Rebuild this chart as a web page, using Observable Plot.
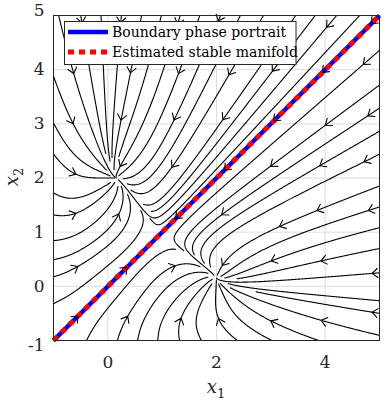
<!DOCTYPE html>
<html><head><meta charset="utf-8">
<script src="https://cdn.jsdelivr.net/npm/d3@7"></script>
<script src="https://cdn.jsdelivr.net/npm/@observablehq/plot@0.6"></script>
<style>body{margin:0;background:#fff}</style>
</head><body><div id="chart"></div>
<script>
// ---- values ----
const xDomain = [-1, 5];
const yDomain = [-1, 5];
const xTicks = [0, 2, 4];
const yTicks = [-1, 0, 1, 2, 3, 4, 5];
const manifoldX = [-1, 5];          // estimated stable manifold / boundary (x2 = x1)
const manifoldY = [-1, 5];
const legendLabels = ["Boundary phase portrait", "Estimated stable manifold"];
// vector field: mutual-repression system, nodes at (2, 0.15) & (0.15, 2), saddle at (1, 1)
const alpha = 2;
const hill = 3.6;
// streamslice-like seeding grids
const startCells = 17, endCells = 80, arrowCells = 20, arrowStride = 3;

function field(x, y) {
  return [alpha / (1 + Math.pow(Math.abs(y), hill)) - x,
          alpha / (1 + Math.pow(Math.abs(x), hill)) - y];
}

// ---- evenly spaced streamlines ----
const [x0, x1] = xDomain, [y0, y1] = yDomain;
const W = x1 - x0, H = y1 - y0;
const h = 0.01;
function dir(x, y, s) {
  const [u, v] = field(x, y); const m = Math.hypot(u, v);
  if (m < 1e-9) return null; return [s * u / m, s * v / m];
}
function trace(xs, ys, s) {
  const pts = [[xs, ys]]; let x = xs, y = ys;
  for (let i = 0; i < 4000; i++) {
    const k1 = dir(x, y, s); if (!k1) break;
    const k2 = dir(x + h / 2 * k1[0], y + h / 2 * k1[1], s); if (!k2) break;
    const k3 = dir(x + h / 2 * k2[0], y + h / 2 * k2[1], s); if (!k3) break;
    const k4 = dir(x + h * k3[0], y + h * k3[1], s); if (!k4) break;
    x += h / 6 * (k1[0] + 2 * k2[0] + 2 * k3[0] + k4[0]);
    y += h / 6 * (k1[1] + 2 * k2[1] + 2 * k3[1] + k4[1]);
    pts.push([x, y]);
    if (x < x0 || x > x1 || y < y0 || y > y1) break;
  }
  return pts;
}
const clampI = (v, n) => Math.min(n - 1, Math.max(0, Math.floor(v)));
const cellOf = (x, y, n) => clampI((y - y0) / H * n, n) * n + clampI((x - x0) / W * n, n);

const endGrid = new Uint8Array(endCells * endCells);
const startGrid = new Uint8Array(startCells * startCells);
const arrowDone = new Uint8Array(arrowCells * arrowCells);
const linePts = [];
const arrows = [];
let lineId = 0;
const nS = startCells * startCells;
const order = d3.range(nS).map(k => (k * 67) % nS);
for (const k of order) {
  if (startGrid[k]) continue;
  startGrid[k] = 1;
  const r = Math.floor(k / startCells), c = k % startCells;
  const xs = x0 + (c + 0.5) * W / startCells, ys = y0 + (r + 0.5) * H / startCells;
  const parts = [];
  for (const s of [1, -1]) {
    const pts = trace(xs, ys, s);
    const kept = []; let prev = cellOf(xs, ys, endCells); let entry = 0; let stay = 0;
    for (let j = 0; j < pts.length; j++) {
      const [px, py] = pts[j];
      if (px < x0 || px > x1 || py < y0 || py > y1) { kept.push(pts[j]); break; }
      const ce = cellOf(px, py, endCells);
      if (ce === prev) {
        stay++;
        if (stay > 60) { kept.length = entry + 1; break; }
      } else {
        if (endGrid[ce]) break;
        stay = 0; entry = kept.length;
      }
      endGrid[ce] = 1; startGrid[cellOf(px, py, startCells)] = 1;
      kept.push(pts[j]); prev = ce;
    }
    parts.push(kept);
  }
  const line = parts[1].slice().reverse().concat(parts[0].slice(1));
  if (line.length < 2) continue;
  const id = lineId++;
  const best = new Map();
  for (const [px, py] of line) {
    linePts.push({id, x: px, y: py});
    if (px < x0 || px > x1 || py < y0 || py > y1) continue;
    const ca = cellOf(px, py, arrowCells);
    const rr = Math.floor(ca / arrowCells), cc = ca % arrowCells;
    if (rr % arrowStride !== 1 || cc % arrowStride !== 1 || arrowDone[ca]) continue;
    const cx = x0 + (cc + 0.5) * W / arrowCells, cy = y0 + (rr + 0.5) * H / arrowCells;
    const d = Math.hypot(px - cx, py - cy);
    if (!best.has(ca) || best.get(ca).d > d) best.set(ca, {d, x: px, y: py});
  }
  for (const [ca, b] of best) {
    arrowDone[ca] = 1;
    const [u, v] = field(b.x, b.y);
    arrows.push({x: b.x, y: b.y, angle: Math.atan2(u, v) * 180 / Math.PI});
  }
}

const manifold = manifoldX.map((x, i) => ({x, y: manifoldY[i]}));
const fmt = d => d < 0 ? "-" + (-d) : String(d);
const arrowHead = {draw(ctx) { ctx.moveTo(-4.5, 5.5); ctx.lineTo(0, 0); ctx.lineTo(4.5, 5.5); }};
const axisStyle = {tickSize: 0, label: null, tickFormat: fmt, fontSize: 17, fill: "#262626"};

const plot = Plot.plot({
  width: 392, height: 402,
  marginLeft: 53, marginRight: 13, marginTop: 15, marginBottom: 62,
  style: {fontFamily: "DejaVu Serif", fontSize: "17px", color: "#262626", background: "white"},
  x: {domain: xDomain},
  y: {domain: yDomain},
  marks: [
    Plot.ruleX(xTicks, {stroke: "#dcdcdc", strokeWidth: 1}),
    Plot.ruleY(yTicks, {stroke: "#dcdcdc", strokeWidth: 1}),
    Plot.line(linePts, {x: "x", y: "y", z: "id", stroke: "#000", strokeWidth: 1.1, clip: true}),
    Plot.line(manifold, {x: "x", y: "y", stroke: "#0000ff", strokeWidth: 4.5, strokeLinecap: "butt"}),
    Plot.line(manifold, {x: "x", y: "y", stroke: "#ff0000", strokeWidth: 5, strokeDasharray: "6,5", strokeLinecap: "butt"}),
    Plot.vector(arrows, {x: "x", y: "y", rotate: "angle", length: 1, anchor: "start", shape: arrowHead, stroke: "#000", strokeWidth: 1.1}),
    Plot.frame({stroke: "#262626", strokeWidth: 1}),
    Plot.axisX({...axisStyle, ticks: xTicks, tickPadding: 15}),
    Plot.axisY({...axisStyle, ticks: yTicks.filter(t => t > yDomain[0] && t < yDomain[1]), tickPadding: 9}),
    Plot.axisY({...axisStyle, ticks: [yDomain[1]], tickPadding: 9, dy: -5}),
    Plot.axisY({...axisStyle, ticks: [yDomain[0]], tickPadding: 9, dy: 5})
  ]
});
document.getElementById("chart").appendChild(plot);

// ---- legend and axis labels ----
const svg = d3.select(plot);
const lg = svg.append("g").attr("font-family", "DejaVu Serif").attr("font-size", 14)
  .attr("fill", "#000").attr("text-anchor", "start");
lg.append("rect").attr("x", 64.5).attr("y", 21.5).attr("width", 231.5).attr("height", 43)
  .attr("fill", "white").attr("stroke", "#262626").attr("stroke-width", 1);
lg.append("line").attr("x1", 68).attr("x2", 108).attr("y1", 32).attr("y2", 32)
  .attr("stroke", "#0000ff").attr("stroke-width", 4.5).attr("stroke-linecap", "butt");
lg.append("line").attr("x1", 68).attr("x2", 108).attr("y1", 52).attr("y2", 52)
  .attr("stroke", "#ff0000").attr("stroke-width", 5).attr("stroke-dasharray", "6,5").attr("stroke-linecap", "butt");
lg.append("text").attr("x", 112).attr("y", 36.5).text(legendLabels[0]);
lg.append("text").attr("x", 112).attr("y", 56.5).text(legendLabels[1]);

const xl = svg.append("text").attr("x", 216).attr("y", 393).attr("text-anchor", "middle")
  .attr("font-family", "DejaVu Serif").attr("font-size", 18).attr("fill", "#262626");
xl.append("tspan").attr("font-style", "italic").text("x");
xl.append("tspan").attr("font-size", 13).attr("dy", 5).text("1");
const yl = svg.append("text").attr("transform", "translate(18,177) rotate(-90)").attr("text-anchor", "middle")
  .attr("font-family", "DejaVu Serif").attr("font-size", 18).attr("fill", "#262626");
yl.append("tspan").attr("font-style", "italic").text("x");
yl.append("tspan").attr("font-size", 13).attr("dy", 5).text("2");
</script>
</body></html>
